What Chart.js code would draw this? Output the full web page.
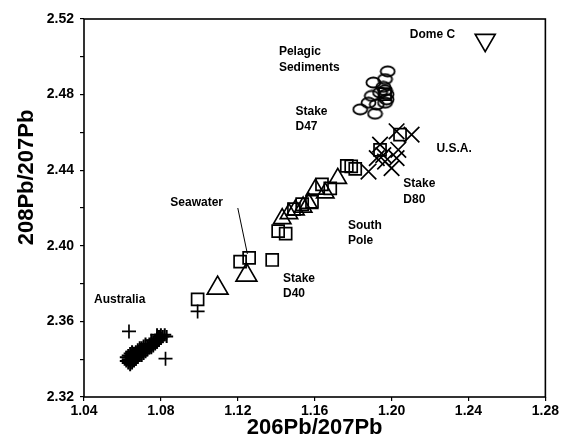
<!DOCTYPE html>
<html>
<head>
<meta charset="utf-8">
<script src="https://cdn.jsdelivr.net/npm/chart.js@4.4.1/dist/chart.umd.min.js"></script>
<style>
  html, body { margin: 0; padding: 0; background: #fff; }
  #wrap { width: 561px; height: 443px; }
</style>
</head>
<body>
<div id="wrap"><canvas id="plot" width="561" height="443"></canvas></div>
<script>
// values: [206Pb/207Pb, 208Pb/207Pb]
const australia = [
	[1.062, 2.339], [1.062, 2.341], [1.063, 2.338], [1.063, 2.340], [1.063, 2.342],
	[1.064, 2.337], [1.064, 2.339], [1.064, 2.341], [1.064, 2.343], [1.065, 2.338],
	[1.065, 2.340], [1.065, 2.342], [1.065, 2.344], [1.066, 2.339], [1.066, 2.341],
	[1.066, 2.343], [1.067, 2.340], [1.067, 2.342], [1.067, 2.344], [1.068, 2.341],
	[1.068, 2.343], [1.068, 2.345], [1.069, 2.342], [1.069, 2.344], [1.069, 2.346],
	[1.070, 2.342], [1.070, 2.344], [1.070, 2.346], [1.071, 2.343], [1.071, 2.345],
	[1.071, 2.347], [1.072, 2.344], [1.072, 2.346], [1.072, 2.348], [1.073, 2.345],
	[1.073, 2.347], [1.074, 2.346], [1.074, 2.348], [1.075, 2.346], [1.075, 2.348],
	[1.075, 2.350], [1.076, 2.347], [1.076, 2.349], [1.077, 2.348], [1.077, 2.350],
	[1.078, 2.349], [1.078, 2.351], [1.079, 2.350], [1.079, 2.352], [1.080, 2.351],
	[1.080, 2.353], [1.081, 2.352], [1.082, 2.353], [1.083, 2.352], [1.078, 2.353]
];
const australiaOutliers = [[1.0634, 2.3547], [1.0824, 2.3403], [1.0991, 2.3653]];
const squares = [
	[1.0991, 2.3717], [1.1212, 2.3916], [1.1259, 2.3936], [1.1379, 2.3925], [1.1410, 2.4078],
	[1.1449, 2.4064], [1.1492, 2.4194], [1.1535, 2.4220], [1.1586, 2.4233], [1.1638, 2.4325],
	[1.1681, 2.4304], [1.1767, 2.4423], [1.1790, 2.4420], [1.1811, 2.4407], [1.1940, 2.4508],
	[1.2044, 2.4588], [1.1966, 2.4802]
];
const bigTriangles = [[1.1095, 2.3776], [1.1245, 2.3845]];
const triangles = [
	[1.1431, 2.4144], [1.1466, 2.4170], [1.1500, 2.4190], [1.1540, 2.4205], [1.1569, 2.4225],
	[1.1604, 2.4300], [1.1655, 2.4280], [1.1720, 2.4357]
];
const crosses = [
	[1.1880, 2.4393], [1.1923, 2.4464], [1.1940, 2.4535], [1.1966, 2.4446], [1.2000, 2.4411],
	[1.2026, 2.4464], [1.2035, 2.4508], [1.2026, 2.4606], [1.2104, 2.4588], [1.1957, 2.4480]
];
const sediments = [
	[1.1980, 2.4923], [1.1966, 2.4882], [1.1905, 2.4864], [1.1957, 2.4841], [1.1897, 2.4793],
	[1.1940, 2.4811], [1.1974, 2.4802], [1.1880, 2.4757], [1.1923, 2.4748], [1.1966, 2.4757],
	[1.1837, 2.4722], [1.1914, 2.4699], [1.1974, 2.4775], [1.1966, 2.4823]
];
const domeC = [[1.2487, 2.5088]];
const seawaterLine = [[1.1200, 2.4200], [1.1250, 2.3957]];

// text labels inside the plot, anchored at their left edge
const label_texts = ['Dome C', 'Pelagic', 'Sediments', 'Stake', 'D47', 'U.S.A.', 'Stake', 'D80',
	'Seawater', 'South', 'Pole', 'Stake', 'D40', 'Australia'];
const label_x = [1.2095, 1.1414, 1.1414, 1.1500, 1.1500, 1.2233, 1.2061, 1.2061,
	1.0849, 1.1773, 1.1773, 1.1435, 1.1435, 1.0452];
const label_y = [2.5115, 2.5029, 2.4944, 2.4709, 2.4629, 2.4514, 2.4327, 2.4245,
	2.4229, 2.4108, 2.4028, 2.3824, 2.3744, 2.3714];

const FONT = '"Liberation Sans", Arial, sans-serif';

const to_points = (arr) => arr.map(p => ({ x: p[0], y: p[1] }));

// pelagic sediment marks are flat ellipses
const make_ellipse = () => {
	const c = document.createElement('canvas');
	c.width = 17;
	c.height = 13;
	const g = c.getContext('2d');
	g.strokeStyle = '#000';
	g.lineWidth = 1.8;
	g.beginPath();
	g.ellipse(8.5, 6.5, 7, 5, 0, 0, Math.PI * 2);
	g.stroke();
	return c;
}

const marks = (data, style, radius, extra) => Object.assign({
	data: to_points(data),
	pointStyle: style,
	pointRadius: radius,
	borderColor: '#000',
	backgroundColor: 'rgba(0,0,0,0)',
	borderWidth: 1.7,
	showLine: false,
}, extra || {});

const frame_and_labels = {
	id: 'frame_and_labels',
	afterDraw(chart) {
		const { ctx, chartArea: a, scales } = chart;
		ctx.save();
		ctx.strokeStyle = '#000';
		ctx.lineWidth = 1.6;
		ctx.strokeRect(a.left, a.top, a.width, a.height);
		ctx.fillStyle = '#000';
		ctx.font = 'bold 12px ' + FONT;
		ctx.textAlign = 'left';
		ctx.textBaseline = 'middle';
		for (let i = 0; i < label_texts.length; i++) {
			ctx.fillText(label_texts[i], scales.x.getPixelForValue(label_x[i]), scales.y.getPixelForValue(label_y[i]));
		}
		ctx.restore();
	}
};

const ellipse = make_ellipse();

new Chart(document.getElementById('plot'), {
	type: 'scatter',
	data: {
		datasets: [
			{
				data: to_points(seawaterLine),
				showLine: true,
				borderColor: '#000',
				borderWidth: 1,
				pointRadius: 0,
			},
			marks(australia, 'cross', 6.5, { borderWidth: 2 }),
			marks(australiaOutliers, 'cross', 7),
			marks(squares, 'rect', 8.5),
			marks(bigTriangles, 'triangle', 12),
			marks(triangles, 'triangle', 10),
			marks(crosses, 'crossRot', 11),
			marks(sediments, ellipse, 7),
			marks(domeC, 'triangle', 11.5, { rotation: 180 }),
		]
	},
	options: {
		responsive: false,
		animation: false,
		devicePixelRatio: 1,
		layout: { padding: { top: 19, right: 13, left: 0, bottom: 0 } },
		plugins: {
			legend: { display: false },
			tooltip: { enabled: false },
		},
		scales: {
			x: {
				type: 'linear',
				min: 1.04,
				max: 1.28,
				afterFit: (scale) => { scale.height = 46; },
				border: { display: false },
				grid: { drawOnChartArea: false, color: '#000', tickLength: 4, lineWidth: 1.2 },
				ticks: {
					stepSize: 0.04,
					color: '#000',
					padding: 2,
					maxRotation: 0,
					font: { family: FONT, size: 14, weight: 'bold' },
					callback: (v) => v.toFixed(2),
				},
				title: {
					display: true,
					text: '206Pb/207Pb',
					color: '#000',
					padding: { top: 0, bottom: 2 },
					font: { family: FONT, size: 22, weight: 'bold', lineHeight: 1.2 },
				},
			},
			y: {
				type: 'linear',
				min: 2.32,
				max: 2.52,
				afterFit: (scale) => { scale.width = 84; },
				border: { display: false },
				grid: { drawOnChartArea: false, color: '#000', tickLength: 4, lineWidth: 1.2 },
				ticks: {
					stepSize: 0.02,
					color: '#000',
					padding: 6,
					font: { family: FONT, size: 14, weight: 'bold' },
					callback: (v) => (Math.round(v * 100) % 4 === 0 ? v.toFixed(2) : ''),
				},
				title: {
					display: true,
					text: '\u00a0\u00a0\u00a0\u00a0\u00a0\u00a0\u00a0\u00a0\u00a0\u00a0208Pb/207Pb',
					color: '#000',
					padding: { top: 14, bottom: 0 },
					font: { family: FONT, size: 22, weight: 'bold', lineHeight: 1.2 },
				},
			},
		},
	},
	plugins: [frame_and_labels],
});
</script>
</body>
</html>
